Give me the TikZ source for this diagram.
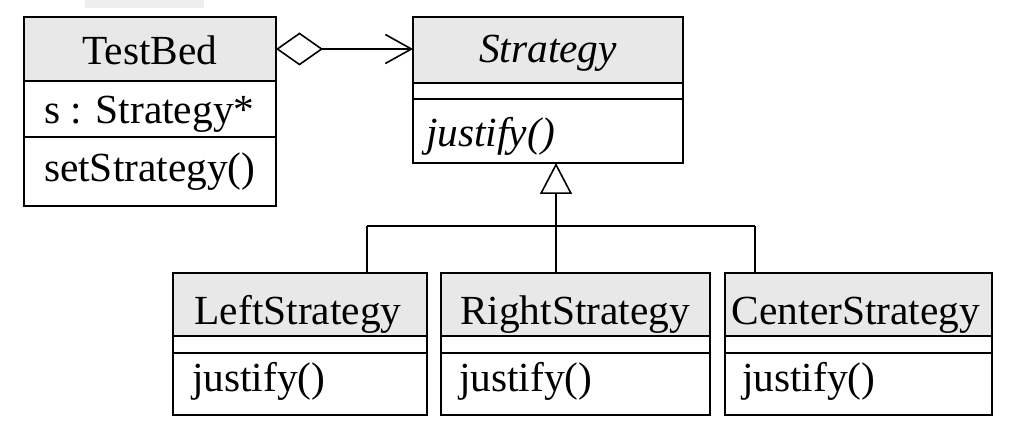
\documentclass[tikz,border=0pt]{standalone}
\usepackage{fontspec}
\setmainfont{Liberation Serif}
\usetikzlibrary{arrows.meta}
\definecolor{hdrgray}{RGB}{232,232,232}
\definecolor{patchgray}{RGB}{238,238,238}
\begin{document}
\begin{tikzpicture}[x=0.5pt,y=-0.5pt,
  sect/.style={draw, line width=1pt, inner sep=0pt, outer sep=0pt},
  hdr/.style={sect, fill=hdrgray},
  lbl/.style={inner sep=0pt, outer sep=0pt, font=\fontsize{20.7}{24}\selectfont},
  conn/.style={line width=0.8pt}]
\useasboundingbox (0,0) rectangle (1030,448);
\fill[patchgray] (85,0) rectangle (204,8);

% TestBed
\node[hdr, minimum width=126.25pt, minimum height=32pt] (tbh) at (149.75,49) {};
\node[sect, anchor=north, minimum width=126.25pt, minimum height=28pt] (tba) at (tbh.south) {};
\node[sect, anchor=north, minimum width=126.25pt, minimum height=34.5pt] (tbo) at (tba.south) {};
\node[lbl, anchor=base] (tbht) at (149.75,65) {TestBed};
\node[lbl, anchor=base west] (tbat) at (44,124) {s : Strategy*};
\node[lbl, anchor=base west] (tbot) at (44,182) {setStrategy()};

% Strategy
\node[hdr, minimum width=135pt, minimum height=33pt] (sth) at (548,50) {};
\node[sect, anchor=north, minimum width=135pt, minimum height=8pt] (sta) at (sth.south) {};
\node[sect, anchor=north, minimum width=135pt, minimum height=32pt] (sto) at (sta.south) {};
\node[lbl, anchor=base] (stht) at (548,63) {\itshape Strategy};
\node[lbl, anchor=base west] (stot) at (426,147) {\itshape justify()};

% LeftStrategy
\node[hdr, minimum width=127pt, minimum height=31.5pt] (lsh) at (300,304.5) {};
\node[sect, anchor=north, minimum width=127pt, minimum height=8.5pt] (lsa) at (lsh.south) {};
\node[sect, anchor=north, minimum width=127pt, minimum height=31pt] (lso) at (lsa.south) {};
\node[lbl, anchor=base] (lsht) at (298,325) {LeftStrategy};
\node[lbl, anchor=base west] (lsot) at (192,392) {justify()};

% RightStrategy
\node[hdr, minimum width=134.5pt, minimum height=31.5pt] (rsh) at (575.5,304.5) {};
\node[sect, anchor=north, minimum width=134.5pt, minimum height=8.5pt] (rsa) at (rsh.south) {};
\node[sect, anchor=north, minimum width=134.5pt, minimum height=31pt] (rso) at (rsa.south) {};
\node[lbl, anchor=base] (rsht) at (575,325) {RightStrategy};
\node[lbl, anchor=base west] (rsot) at (459,392) {justify()};

% CenterStrategy
\node[hdr, minimum width=133.5pt, minimum height=31.5pt] (csh) at (858.5,304.5) {};
\node[sect, anchor=north, minimum width=133.5pt, minimum height=8.5pt] (csa) at (csh.south) {};
\node[sect, anchor=north, minimum width=133.5pt, minimum height=31pt] (cso) at (csa.south) {};
\node[lbl, anchor=base] (csht) at (856,325) {CenterStrategy};
\node[lbl, anchor=base west] (csot) at (742,392) {justify()};

% aggregation
\draw[conn, {Diamond[open, length=23.5pt, width=16.5pt]}-{Straight Barb[length=13pt, width=14.5pt]}]
  (tbh.east) -- (tbh.east -| sth.west);

% generalization
\coordinate (lj) at (367,226);
\coordinate (rj) at (556,226);
\coordinate (cj) at (755,226);
\draw[conn, -{Triangle[open, length=15.5pt, width=16pt, fill=white]}] (rj) -- (rj |- sto.south);
\draw[conn] (lj) -- (cj);
\draw[conn] (lj) -- (lj |- lsh.north);
\draw[conn] (rj) -- (rj |- rsh.north);
\draw[conn] (cj) -- (cj |- csh.north);
\end{tikzpicture}
\end{document}
